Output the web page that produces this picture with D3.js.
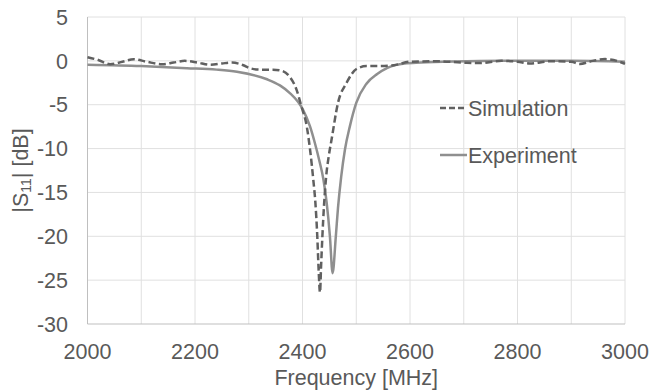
<!DOCTYPE html>
<meta charset="utf-8">
<head>
  <title>S11 vs frequency</title>
  <style>
    body { margin: 0; background: #fff; }
    text { font-family: "Liberation Sans", Arial, sans-serif; fill: #595959; }
  </style>
</head>
<body>
<svg id="chart" width="652" height="391"></svg>

<script src="https://d3js.org/d3.v7.min.js"></script>
<script>
// values (frequency in MHz, |S11| in dB)
var simFreq = [2000, 2020, 2042, 2065, 2086, 2110, 2139, 2160, 2181, 2205, 2228, 2250, 2269, 2290,
  2302, 2320, 2345, 2362, 2376, 2389, 2398, 2408, 2414, 2420, 2424, 2427.5, 2430, 2432.6,
  2434.5, 2437, 2440, 2444, 2449, 2454, 2466, 2482, 2501, 2519, 2540, 2570, 2600, 2650, 2700, 2730,
  2770, 2800, 2823, 2860, 2900, 2916, 2940, 2963, 2985, 3000]
var simDb = [0.42, 0.1, -0.38, -0.1, 0.19, -0.1, -0.38, -0.2, 0.0, -0.2, -0.45, -0.3, -0.19, -0.5,
  -0.83, -1.0, -1.0, -1.15, -1.8, -3.3, -5.2, -7.5, -10.1, -13.5, -16.2, -20, -23.8, -26.4,
  -23.5, -20, -16.5, -13.2, -10.8, -9.0, -4.8, -2.5, -0.9, -0.6, -0.6, -0.5, -0.1, -0.05, -0.2, -0.25,
  0.0, -0.1, -0.3, -0.05, -0.1, -0.35, 0.0, 0.2, 0.0, -0.35]

var expFreq = [2000, 2100, 2185, 2240, 2278, 2334, 2358, 2377, 2392, 2401, 2414, 2423, 2431, 2439,
  2445, 2451, 2456, 2462, 2466, 2472, 2479, 2488, 2500, 2519, 2539, 2558, 2590, 2620, 2680,
  2775, 2900, 3000]
var expDb = [-0.45, -0.6, -0.83, -1.0, -1.25, -2.1, -2.8, -3.7, -4.7, -5.58, -7.48, -9.37, -11.3, -13.55,
  -16.2, -20, -24.2, -20, -16.8, -13.2, -10.1, -7.5, -4.8, -2.6, -1.5, -0.8, -0.3, -0.2, -0.08,
  0, 0, -0.1]

var xTicks = [2000, 2200, 2400, 2600, 2800, 3000]
var xGrid = [2100, 2200, 2300, 2400, 2500, 2600, 2700, 2800, 2900, 3000]
var yTicks = [5, 0, -5, -10, -15, -20, -25, -30]
var seriesNames = ["Simulation", "Experiment"]

var svg = d3.select("#chart")
var pLeft = 87.5, pRight = 625, pTop = 17, pBottom = 324

var x = d3.scaleLinear().domain([2000, 3000]).range([pLeft, pRight])
var y = d3.scaleLinear().domain([-30, 5]).range([pBottom, pTop])

// gridlines
svg.append("g").selectAll("line").data(yTicks.filter(d => d > -30)).enter().append("line")
  .attr("x1", pLeft).attr("x2", pRight)
  .attr("y1", d => y(d)).attr("y2", d => y(d))
  .attr("stroke", "#e0e0e0").attr("stroke-width", 1)
svg.append("g").selectAll("line").data(xGrid).enter().append("line")
  .attr("x1", d => x(d)).attr("x2", d => x(d))
  .attr("y1", pTop).attr("y2", pBottom)
  .attr("stroke", "#e0e0e0").attr("stroke-width", 1)

// axis lines
svg.append("line").attr("x1", pLeft).attr("x2", pLeft).attr("y1", pTop).attr("y2", pBottom)
  .attr("stroke", "#bfbfbf").attr("stroke-width", 1)
svg.append("line").attr("x1", pLeft).attr("x2", pRight).attr("y1", pBottom).attr("y2", pBottom)
  .attr("stroke", "#bfbfbf").attr("stroke-width", 1)

// tick labels
svg.append("g").selectAll("text").data(yTicks).enter().append("text")
  .attr("x", 68).attr("y", d => y(d)).attr("dy", "0.36em")
  .attr("text-anchor", "end").style("font-size", "21.5px")
  .text(d => d)
svg.append("g").selectAll("text").data(xTicks).enter().append("text")
  .attr("x", d => x(d)).attr("y", 359)
  .attr("text-anchor", "middle").style("font-size", "21.5px")
  .text(d => d)

// axis titles
svg.append("text").attr("x", (pLeft + pRight) / 2).attr("y", 385)
  .attr("text-anchor", "middle").style("font-size", "21.5px")
  .text("Frequency [MHz]")

var yTitle = svg.append("text")
  .attr("transform", "translate(28," + ((pTop + pBottom) / 2) + ") rotate(-90)")
  .attr("text-anchor", "middle").style("font-size", "21.5px")
yTitle.append("tspan").text("|S")
yTitle.append("tspan").style("font-size", "14px").attr("dy", "3").text("11")
yTitle.append("tspan").attr("dy", "-3").text("| [dB]")

// curves
var line = d3.line().x(d => x(d[0])).y(d => y(d[1])).curve(d3.curveMonotoneX)

svg.append("path").datum(expFreq.map((f, i) => [f, expDb[i]]))
  .attr("d", line).attr("fill", "none")
  .attr("stroke", "#8f8f8f").attr("stroke-width", 2.5)

svg.append("path").datum(simFreq.map((f, i) => [f, simDb[i]]))
  .attr("d", line).attr("fill", "none")
  .attr("stroke", "#606060").attr("stroke-width", 2.5)
  .attr("stroke-dasharray", "7,3.5")

// legend
var legend = svg.append("g")
var legendY = [108, 155]
legend.append("line").attr("x1", 440).attr("x2", 467).attr("y1", legendY[0]).attr("y2", legendY[0])
  .attr("stroke", "#606060").attr("stroke-width", 2.5).attr("stroke-dasharray", "6,3")
legend.append("line").attr("x1", 440).attr("x2", 467).attr("y1", legendY[1]).attr("y2", legendY[1])
  .attr("stroke", "#8f8f8f").attr("stroke-width", 2.5)
legend.selectAll("text.lg").data(seriesNames).enter().append("text")
  .attr("x", 468).attr("y", (d, i) => legendY[i]).attr("dy", "0.36em")
  .style("font-size", "21.5px").text(d => d)
</script>
</body>
